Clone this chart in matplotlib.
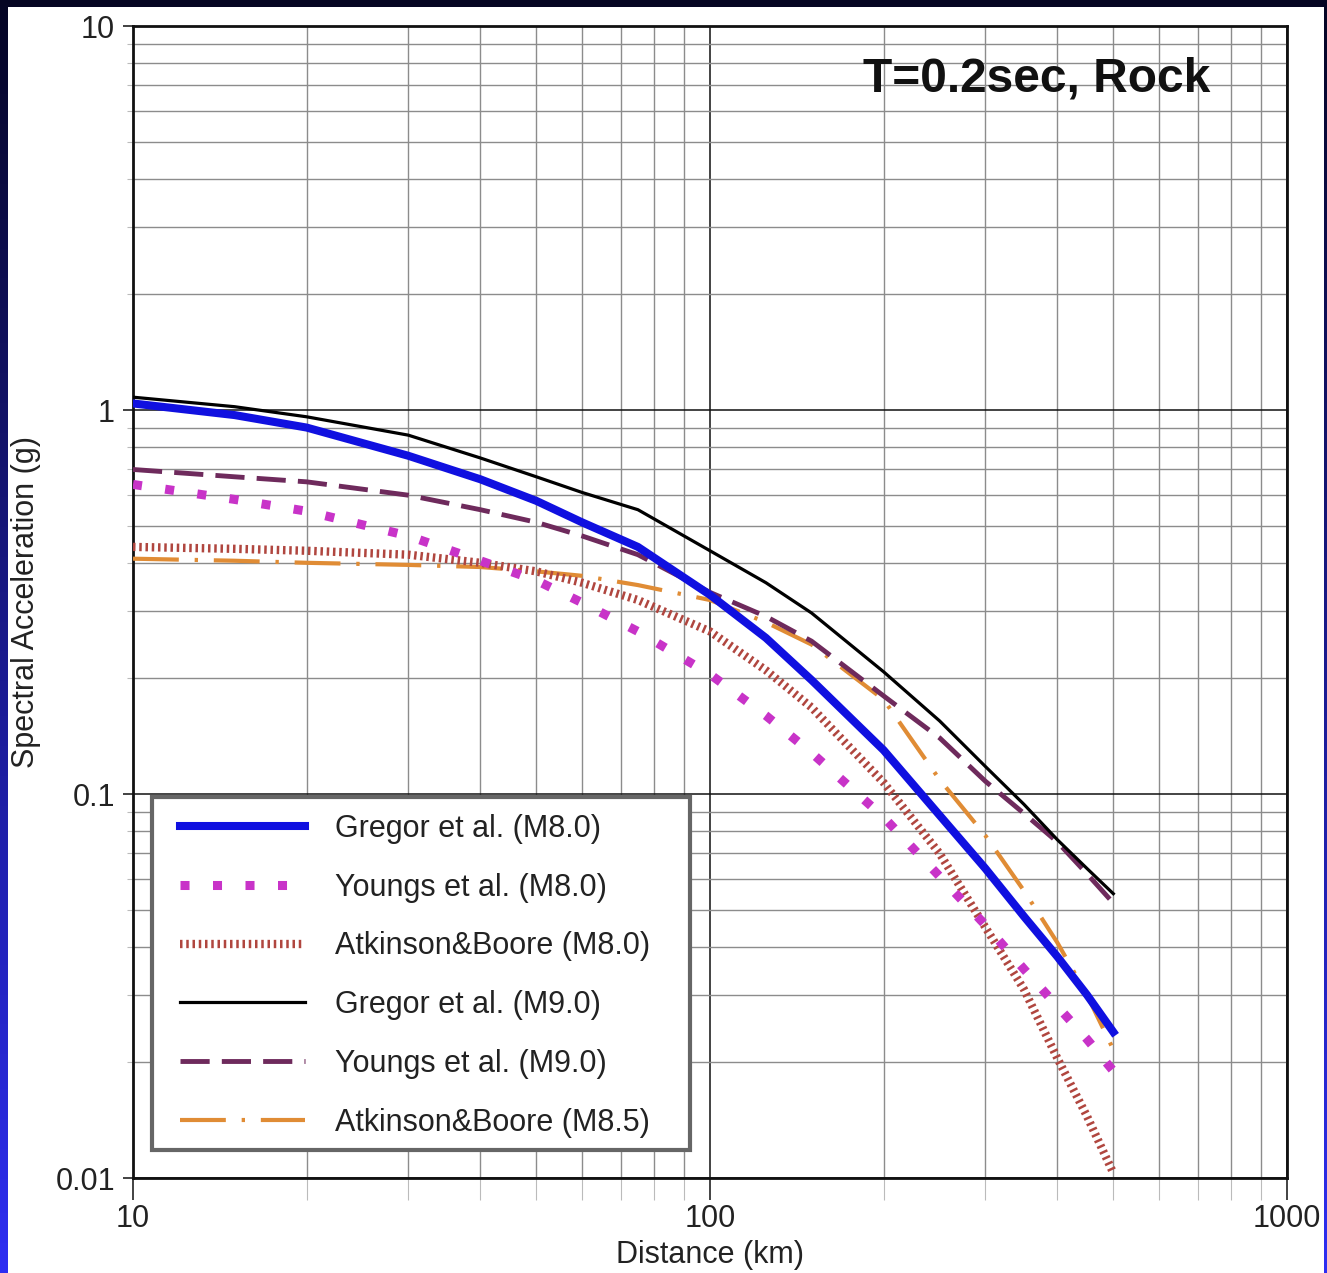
import numpy as np
import matplotlib
matplotlib.use("Agg")
import matplotlib.pyplot as plt
from matplotlib.patches import Rectangle
from matplotlib.ticker import FixedLocator, FixedFormatter, LogLocator, NullFormatter

plt.rcParams['font.family'] = ['Liberation Sans', 'DejaVu Sans']

# ---------------- data ----------------
distance_km = [10, 15, 20, 30, 40, 50, 60, 75, 100, 125, 150, 200, 250, 300, 350, 400, 450, 500]
gregor_m80 = [1.04, 0.97, 0.90, 0.76, 0.66, 0.58, 0.51, 0.44, 0.33, 0.255, 0.198, 0.13, 0.088, 0.064, 0.048, 0.0377, 0.030, 0.024]
youngs_m80 = [0.64, 0.585, 0.545, 0.47, 0.405, 0.36, 0.315, 0.265, 0.205, 0.16, 0.128, 0.087, 0.061, 0.0456, 0.035, 0.028, 0.023, 0.019]
atkinson_m80 = [0.44, 0.435, 0.43, 0.42, 0.40, 0.38, 0.355, 0.32, 0.265, 0.21, 0.168, 0.107, 0.07, 0.045, 0.031, 0.0205, 0.0145, 0.0103]
gregor_m90 = [1.08, 1.02, 0.96, 0.86, 0.75, 0.67, 0.61, 0.55, 0.43, 0.355, 0.296, 0.208, 0.155, 0.118, 0.094, 0.076, 0.064, 0.055]
youngs_m90 = [0.70, 0.67, 0.65, 0.60, 0.55, 0.51, 0.47, 0.42, 0.335, 0.29, 0.25, 0.18, 0.14, 0.108, 0.089, 0.075, 0.062, 0.052]
atkinson_m85 = [0.41, 0.405, 0.40, 0.395, 0.39, 0.38, 0.37, 0.35, 0.32, 0.28, 0.245, 0.176, 0.109, 0.078, 0.056, 0.041, 0.030, 0.0216]

series_labels = ["Gregor et al. (M8.0)", "Youngs et al. (M8.0)", "Atkinson&Boore (M8.0)",
                 "Gregor et al. (M9.0)", "Youngs et al. (M9.0)", "Atkinson&Boore (M8.5)"]
xtick_values = [10, 100, 1000]
xtick_labels = ["10", "100", "1000"]
ytick_values = [0.01, 0.1, 1, 10]
ytick_labels = ["0.01", "0.1", "1", "10"]
title_text = "T=0.2sec, Rock"
xlabel_text = "Distance (km)"
ylabel_text = "Spectral Acceleration (g)"

# ---------------- figure ----------------
W, H = 1327, 1273
fig = plt.figure(figsize=(W / 100, H / 100), dpi=100)

# background gradient frame
bg = fig.add_axes([0, 0, 1, 1], zorder=-10)
bg.set_axis_off()
t = np.linspace(0, 1, 256)[:, None, None]
dark = np.array([0.02, 0.02, 0.14])
blue = np.array([0.18, 0.18, 0.95])
grad = dark + t * (blue - dark)
grad = np.repeat(grad, 2, axis=1)
bg.imshow(grad, extent=[0, 1, 0, 1], aspect='auto', origin='upper')
bg.add_patch(Rectangle((8 / W, 0), (1324 - 8) / W, 1 - 7 / H, transform=bg.transAxes,
                       facecolor='white', edgecolor='none'))
bg.set_xlim(0, 1)
bg.set_ylim(0, 1)

left, right, top, bottom = 133, 1287, 26, 1178
ax = fig.add_axes([left / W, 1 - bottom / H, (right - left) / W, (bottom - top) / H])
ax.set_facecolor('white')
ax.set_xscale('log')
ax.set_yscale('log')
ax.set_xlim(10, 1000)
ax.set_ylim(0.01, 10)

# grid
ax.xaxis.set_major_locator(FixedLocator(xtick_values))
ax.xaxis.set_major_formatter(FixedFormatter(xtick_labels))
ax.yaxis.set_major_locator(FixedLocator(ytick_values))
ax.yaxis.set_major_formatter(FixedFormatter(ytick_labels))
ax.xaxis.set_minor_locator(LogLocator(base=10, subs=np.arange(2, 10)))
ax.yaxis.set_minor_locator(LogLocator(base=10, subs=np.arange(2, 10)))
ax.xaxis.set_minor_formatter(NullFormatter())
ax.yaxis.set_minor_formatter(NullFormatter())
ax.grid(which='major', color='#111111', lw=1.1, zorder=0)
ax.grid(which='minor', color='#8c8c8c', lw=1.0, zorder=0)
ax.set_axisbelow(True)

for s in ax.spines.values():
    s.set_linewidth(2.0)
    s.set_color('#111111')

ax.tick_params(axis='x', which='major', direction='out', length=16, width=1.2,
               color='#222222', labelsize=22, pad=3, labelcolor='#222222')
ax.tick_params(axis='x', which='minor', direction='out', length=16, width=0.8,
               color='#bbbbbb')
ax.tick_params(axis='y', which='major', direction='out', length=7, width=1.2,
               color='#222222', labelsize=22, pad=6, labelcolor='#222222')
ax.tick_params(axis='y', which='minor', direction='out', length=4, width=0.8,
               color='#bbbbbb')

# ---------------- series ----------------
x = distance_km
l6, = ax.plot(x, atkinson_m85, color='#e08c35', lw=3.0,
              linestyle=(0, (11, 3.8, 0.8, 3.8)), zorder=3, label=series_labels[5])
l5, = ax.plot(x, youngs_m90, color='#6e2a5c', lw=3.5,
              linestyle=(0, (6, 2.5)), zorder=4, label=series_labels[4])
l4, = ax.plot(x, gregor_m90, color='#000000', lw=2.3, zorder=5, label=series_labels[3])
l3, = ax.plot(x, atkinson_m80, color='#b0463f', lw=6.0,
              linestyle=(0, (0.3, 0.45)), dash_capstyle='butt', zorder=6, label=series_labels[2])
l2, = ax.plot(x, youngs_m80, color='#c833c8', lw=6.5,
              linestyle=(0, (1, 2.6)), dash_capstyle='butt', zorder=7, label=series_labels[1])
l1, = ax.plot(x, gregor_m80, color='#1010e0', lw=5.8, zorder=8, label=series_labels[0])

# ---------------- legend ----------------
def ax_x(px):
    return (px - left) / (right - left)

def ax_y(py):
    return (bottom - py) / (bottom - top)

ax.add_patch(Rectangle((ax_x(152), ax_y(1150)), ax_x(690) - ax_x(152), ax_y(797) - ax_y(1150),
                       transform=ax.transAxes, facecolor='white', edgecolor='#666666',
                       lw=3.0, zorder=20))
leg = ax.legend(handles=[l1, l2, l3, l4, l5, l6], loc='upper left',
                bbox_to_anchor=(ax_x(180), ax_y(814)), frameon=False,
                fontsize=22, handlelength=4.1, handletextpad=0.98,
                labelspacing=0.94, borderpad=0, borderaxespad=0)
leg.set_zorder(21)
for txt in leg.get_texts():
    txt.set_color('#222222')

# ---------------- text ----------------
ax.text(ax_x(1210), ax_y(79), title_text, transform=ax.transAxes, ha='right', va='center',
        fontsize=34.5, fontweight='bold', color='#111111', zorder=22)
ax.set_xlabel(xlabel_text, fontsize=22, color='#222222')
ax.xaxis.set_label_coords(0.5, ax_y(1240))
ax.xaxis.label.set_va('top')
ax.set_ylabel(ylabel_text, fontsize=22, color='#222222')
ax.yaxis.set_label_coords(ax_x(41), 0.5)

fig.savefig('out.png', dpi=100)
